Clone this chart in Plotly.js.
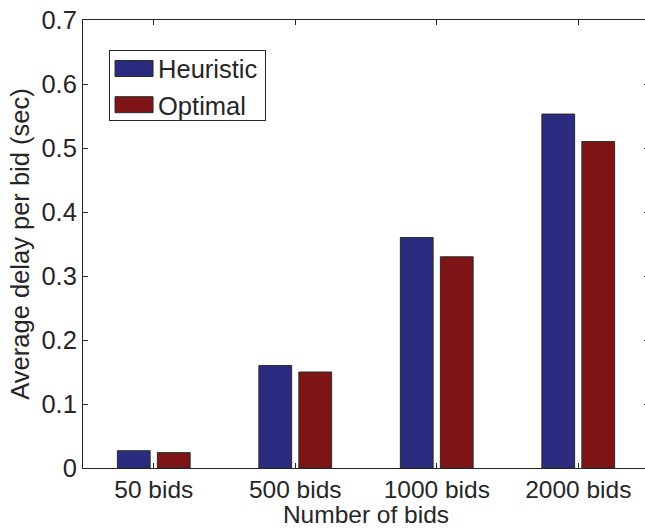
<!DOCTYPE html>
<html>
<head>
<meta charset="utf-8">
<script src="https://cdn.plot.ly/plotly-3.0.1.min.js"></script>
<style>
html,body{margin:0;padding:0;overflow:hidden;background:#fff;}
#chart{width:650px;height:528px;}
</style>
</head>
<body>
<div id="chart"></div>
<script>
const categories = ["50 bids", "500 bids", "1000 bids", "2000 bids"];
const heuristic = [0.027, 0.160, 0.360, 0.553];
const optimal = [0.024, 0.150, 0.330, 0.510];
const yTicks = [0, 0.1, 0.2, 0.3, 0.4, 0.5, 0.6, 0.7];
const yTickText = ["0", "0.1", "0.2", "0.3", "0.4", "0.5", "0.6", "0.7"];

const FONT = "Liberation Sans, Arial, Helvetica, sans-serif";
const TXT = "#262626";
const FS = 25.5;
const FSX = 24.5;

const traces = [
  {type: "bar", name: "Heuristic", x: categories, y: heuristic,
   marker: {color: "#2b2c80", line: {color: "#2a2a2a", width: 1}}},
  {type: "bar", name: "Optimal", x: categories, y: optimal,
   marker: {color: "#7e1416", line: {color: "#2a2a2a", width: 1}}}
];

const layout = {
  width: 650, height: 528,
  margin: {l: 83, r: 1, t: 20, b: 60, pad: 0},
  paper_bgcolor: "#fff", plot_bgcolor: "#fff",
  font: {family: FONT, size: FS, color: TXT},
  barmode: "group", bargap: 0.435, bargroupgap: 0.18,
  showlegend: true,
  legend: {x: 0.046, y: 0.932, xanchor: "left", yanchor: "top",
           bgcolor: "#fff", bordercolor: "#262626", borderwidth: 1,
           itemwidth: 38, font: {family: FONT, size: FS, color: TXT},
           tracegroupgap: 0},
  xaxis: {
    type: "category", range: [-0.5, 3.5],
    showline: true, linecolor: "#262626", linewidth: 1, mirror: "ticks",
    ticks: "inside", ticklen: 5, tickcolor: "#262626",
    showgrid: false, zeroline: false,
    tickfont: {family: FONT, size: FSX, color: TXT},
    title: {text: "Number of bids", font: {family: FONT, size: FSX, color: TXT}, standoff: 5}
  },
  yaxis: {
    range: [0, 0.7], tickvals: yTicks, ticktext: yTickText,
    showline: true, linecolor: "#262626", linewidth: 1, mirror: "ticks",
    ticks: "inside", ticklen: 5, tickcolor: "#262626",
    showgrid: false, zeroline: false,
    tickfont: {family: FONT, size: FS, color: TXT},
    title: {text: "Average delay per bid (sec)", font: {family: FONT, size: FS, color: TXT}, standoff: 4}
  }
};

Plotly.newPlot("chart", traces, layout, {staticPlot: true, displayModeBar: false}).then(function(gd){
  // MATLAB-style legend: larger rectangular swatches, tighter box
  document.querySelectorAll("#chart .legendpoints path").forEach(function(p){
    p.setAttribute("d", "M19,8H-19V-8H19Z");
    p.style.strokeWidth = "1px";
  });
  const leg = document.querySelector("#chart .legend");
  if (leg) {
    const items = leg.querySelectorAll("g.traces");
    const bb = leg.querySelector("rect.bg");
    items.forEach(function(g){
      const t = g.getAttribute("transform") || "";
      const m = t.match(/translate\(\s*([-\d.e]+)[ ,]+([-\d.e]+)\s*\)/);
      if (m) g.setAttribute("transform", "translate(" + m[1] + "," + (parseFloat(m[2]) - 6) + ")");
    });
    if (bb) {
      bb.setAttribute("height", "70");
      bb.setAttribute("width", String(parseFloat(bb.getAttribute("width")) + 2));
    }
  }
});
</script>
</body>
</html>
